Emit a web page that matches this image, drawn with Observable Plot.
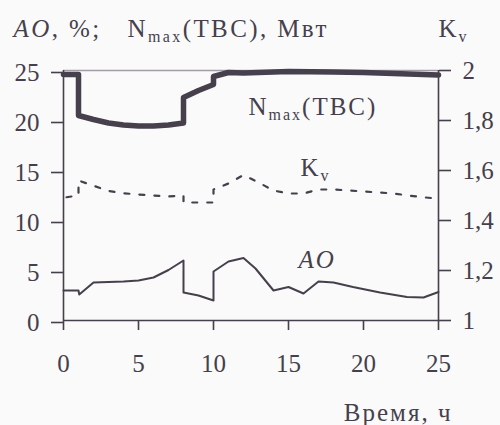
<!DOCTYPE html>
<html><head><meta charset="utf-8">
<script src="https://cdn.jsdelivr.net/npm/d3@7"></script>
<script src="https://cdn.jsdelivr.net/npm/@observablehq/plot@0.6"></script>
<style>
body{margin:0;background:#fafafa}
svg, svg text, svg tspan{font-family:"Liberation Serif", serif !important; white-space:pre}
svg text.wide{letter-spacing:2px}
svg text.wider{letter-spacing:2.4px}
</style>
</head><body><div id="chart"></div>
<script>
// Time axis, hours
const xTicks = [0, 5, 10, 15, 20, 25];
const yTicks = [0, 5, 10, 15, 20, 25];
const kvTickLabels = ["1", "1,2", "1,4", "1,6", "1,8", "2"];

// N_max(TBC), MW
const nmaxTime  = [0, 1, 1, 2, 3, 4, 5, 6, 7, 8, 8, 9, 10, 10, 11, 12, 13, 15, 18, 20, 22, 24, 25];
const nmaxValue = [24.6, 24.6, 20.5, 20.1, 19.75, 19.55, 19.45, 19.45, 19.55, 19.75, 22.3, 23.0, 23.6, 24.4, 24.8, 24.75, 24.8, 24.9, 24.85, 24.8, 24.7, 24.6, 24.55];

// K_v (right axis)
const kvTime  = [0.2, 1, 1, 2, 3, 4, 5, 6, 7, 8, 8, 9, 10, 10, 11, 12, 13, 14, 15, 16, 17, 18, 19, 20, 21, 22, 23, 24, 24.5];
const kvValue = [1.493, 1.50, 1.56, 1.539, 1.518, 1.509, 1.504, 1.50, 1.496, 1.50, 1.472, 1.472, 1.472, 1.524, 1.548, 1.582, 1.552, 1.52, 1.508, 1.508, 1.524, 1.524, 1.52, 1.516, 1.512, 1.508, 1.50, 1.493, 1.49];

// AO, %
const aoTime  = [0, 1, 1.05, 2, 3, 4, 5, 6, 7, 8, 8, 9, 10, 10, 11, 12, 12.8, 14, 15, 16, 17, 18, 19.3, 21.1, 22.9, 24, 25];
const aoValue = [3.0, 3.0, 2.6, 3.8, 3.85, 3.9, 4.0, 4.3, 5.05, 6.0, 2.8, 2.5, 2.0, 4.9, 5.9, 6.25, 5.2, 3.0, 3.35, 2.7, 3.9, 3.8, 3.35, 2.8, 2.35, 2.3, 2.85];

// Curve labels
const labelText = ["N_{max}(TBC)", "K_{v}", "*AO*"];
const labelTime = [12.33, 15.8, 15.67];
const labelValue = [21.4, 15.25, 6.1];

const titleLeft = "*AO*, %;   N_{max}(TBC), Мвт";
const titleRight = "K_{v}";
const xLabel = "Время, ч";

const ink = "#463f4c";
const nmax = nmaxTime.map((t, i) => ({t, v: nmaxValue[i]}));
const kv = kvTime.map((t, i) => ({t, k: kvValue[i]}));
const ao = aoTime.map((t, i) => ({t, v: aoValue[i]}));
const labels = labelText.map((text, i) => ({text, t: labelTime[i], v: labelValue[i]}));

const chart = Plot.plot({
  width: 500, height: 425,
  marginLeft: 63, marginRight: 62, marginTop: 70, marginBottom: 105,
  x: {domain: [0, 25]},
  y: {domain: [0, 25]},
  style: {fontFamily: "Liberation Serif, serif", fontSize: "25px", color: ink, background: "transparent"},
  marks: [
    Plot.ruleY([25], {stroke: "#a29ca6", strokeWidth: 1.3}),
    Plot.line(nmax, {x: "t", y: "v", stroke: ink, strokeWidth: 5.5, strokeLinejoin: "round"}),
    Plot.line(kv, {x: "t", y: d => (d.k - 1) * 25, stroke: ink, strokeWidth: 2.2, strokeDasharray: "5,10"}),
    Plot.line(ao, {x: "t", y: "v", stroke: ink, strokeWidth: 2}),
    Plot.ruleX([0], {stroke: ink, strokeWidth: 1.6}),
    Plot.ruleX([25], {stroke: ink, strokeWidth: 1.6}),
    Plot.ruleY([0], {stroke: ink, strokeWidth: 1.6}),
    Plot.axisX({ticks: xTicks, tickSize: 10, tickPadding: 24, label: null, tickFormat: d => String(d), stroke: ink, strokeWidth: 1.6}),
    Plot.axisY({anchor: "left", ticks: yTicks, tickSize: 12, tickPadding: 12, label: null, tickFormat: d => String(d), stroke: ink, strokeWidth: 1.6, dy: 2}),
    Plot.axisY({anchor: "right", ticks: yTicks, tickSize: 12, tickPadding: 12, label: null, tickFormat: d => kvTickLabels[yTicks.indexOf(d)], stroke: ink, strokeWidth: 1.6}),
    Plot.text(labels, {x: "t", y: "v", text: "text", textAnchor: "start", lineAnchor: "middle", fill: ink, className: "wide"}),
    Plot.text([titleLeft], {frameAnchor: "top-left", dx: -50, dy: -42, textAnchor: "start", lineAnchor: "middle", fill: ink, className: "wider"}),
    Plot.text([titleRight], {frameAnchor: "top-right", dx: 30, dy: -42, textAnchor: "end", lineAnchor: "middle", fill: ink, className: "wide"}),
    Plot.text([xLabel], {frameAnchor: "bottom-right", dx: 14, dy: 92, textAnchor: "end", lineAnchor: "middle", fill: ink, className: "wide"})
  ]
});

// Rich text: _{...} subscript, *...* italic
d3.select(chart).selectAll("text").each(function() {
  const s = this.textContent;
  if (!/[_*]/.test(s)) return;
  const parts = [];
  const re = /_\{([^}]*)\}|\*([^*]*)\*|([^_*]+)/g;
  let m;
  while ((m = re.exec(s))) {
    if (m[1] != null) parts.push({t: m[1], sub: true});
    else if (m[2] != null) parts.push({t: m[2], it: true});
    else parts.push({t: m[3]});
  }
  const el = d3.select(this);
  el.text(null);
  let shifted = false;
  for (const p of parts) {
    const ts = el.append("tspan").text(p.t);
    if (p.sub) { ts.attr("font-size", 16).attr("dy", 5); shifted = true; }
    else if (shifted) { ts.attr("dy", -5); shifted = false; }
    if (p.it) ts.attr("font-style", "italic");
  }
});

d3.select(chart).selectAll("g.wide text").classed("wide", true);
d3.select(chart).selectAll("g.wider text").classed("wider", true);

document.getElementById("chart").append(chart);
</script>
</body></html>
